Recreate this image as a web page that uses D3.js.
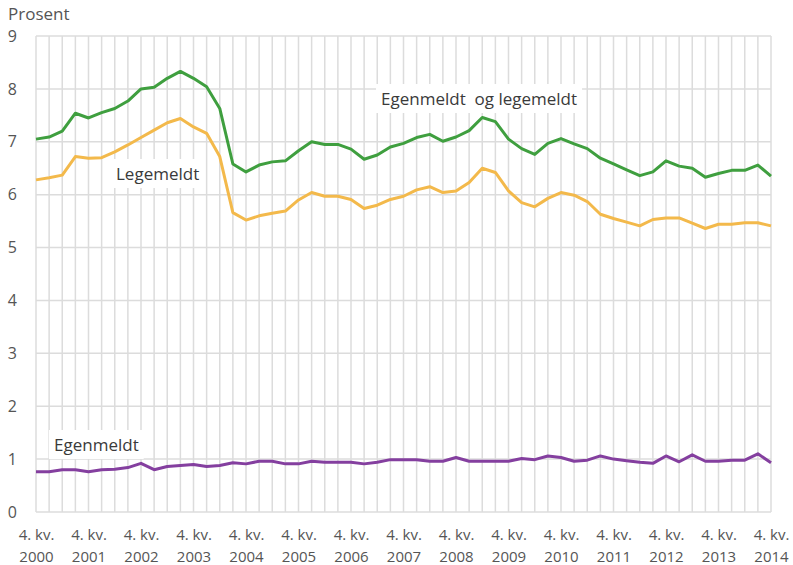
<!DOCTYPE html>
<html>
<head>
<meta charset="utf-8">
<script src="https://cdn.jsdelivr.net/npm/d3@7"></script>
<style>
  body { margin: 0; background: #fff; }
  svg { display: block; font-family: "Open Sans", sans-serif; }
</style>
</head>
<body>
<div id="chart"></div>
<script>
// Sykefravær per kvartal, 4. kv. 2000 – 4. kv. 2014 (57 kvartaler)
const years = ['2000', '2001', '2002', '2003', '2004', '2005', '2006', '2007',
  '2008', '2009', '2010', '2011', '2012', '2013', '2014'];
const yTicks = [0, 1, 2, 3, 4, 5, 6, 7, 8, 9];

const total = [7.05, 7.09, 7.2, 7.54, 7.45, 7.55, 7.63, 7.77, 8.0, 8.03, 8.2, 8.33, 8.2, 8.04, 7.63,
  6.58, 6.43, 6.56, 6.62, 6.64, 6.83, 7.0, 6.95, 6.95, 6.86, 6.67, 6.75, 6.9, 6.97, 7.08,
  7.14, 7.01, 7.09, 7.21, 7.46, 7.38, 7.05, 6.87, 6.76, 6.97, 7.06, 6.96, 6.87, 6.69, 6.58,
  6.47, 6.36, 6.43, 6.64, 6.54, 6.5, 6.33, 6.4, 6.46, 6.46, 6.56, 6.35];

const legemeldt = [6.28, 6.32, 6.37, 6.72, 6.69, 6.7, 6.81, 6.94, 7.08, 7.22, 7.36, 7.44, 7.28, 7.16, 6.72,
  5.66, 5.52, 5.6, 5.65, 5.69, 5.9, 6.04, 5.97, 5.97, 5.91, 5.74, 5.8, 5.91, 5.97, 6.09,
  6.15, 6.04, 6.07, 6.23, 6.5, 6.42, 6.07, 5.85, 5.77, 5.93, 6.04, 5.99, 5.87, 5.63, 5.55,
  5.48, 5.41, 5.53, 5.56, 5.56, 5.46, 5.36, 5.44, 5.44, 5.47, 5.47, 5.41];

const egenmeldt = [0.76, 0.76, 0.8, 0.8, 0.76, 0.8, 0.81, 0.84, 0.92, 0.8, 0.86, 0.88, 0.9, 0.86, 0.88,
  0.93, 0.91, 0.96, 0.96, 0.91, 0.91, 0.96, 0.94, 0.94, 0.94, 0.91, 0.94, 0.99, 0.99, 0.99,
  0.96, 0.96, 1.03, 0.96, 0.96, 0.96, 0.96, 1.01, 0.99, 1.06, 1.03, 0.96, 0.98, 1.06, 1.0,
  0.97, 0.94, 0.92, 1.06, 0.95, 1.08, 0.96, 0.96, 0.98, 0.98, 1.1, 0.93];

const W = 793, H = 565;
const MARGIN = { top: 36, right: 22, bottom: 53, left: 36 };
const GRID = '#dcdcdc';
const TEXT = '#555';

const svg = d3.select('#chart').append('svg')
  .attr('width', W)
  .attr('height', H);

const x = d3.scaleLinear().domain([0, total.length - 1]).range([MARGIN.left, W - MARGIN.right]);
const y = d3.scaleLinear().domain([0, 9]).range([H - MARGIN.bottom, MARGIN.top]);

// vertical grid, one per quarter
svg.append('g')
  .selectAll('line')
  .data(d3.range(total.length))
  .join('line')
  .attr('x1', d => x(d)).attr('x2', d => x(d))
  .attr('y1', y(9)).attr('y2', y(0))
  .attr('stroke', GRID)
  .attr('stroke-width', 1.5);

// horizontal grid
svg.append('g')
  .selectAll('line')
  .data(yTicks)
  .join('line')
  .attr('x1', x(0)).attr('x2', x(total.length - 1))
  .attr('y1', d => y(d)).attr('y2', d => y(d))
  .attr('stroke', GRID)
  .attr('stroke-width', 1.5);

// y axis labels
const yAxis = svg.append('g')
  .attr('transform', `translate(${MARGIN.left},0)`)
  .call(d3.axisLeft(y).tickValues(yTicks).tickSize(0).tickPadding(19));
yAxis.select('.domain').remove();
yAxis.selectAll('text')
  .attr('fill', TEXT)
  .style('font-size', '16px')
  .style('font-family', '"Open Sans", sans-serif');

// x axis labels (two lines)
const xAxis = svg.append('g')
  .attr('transform', `translate(0,${y(0)})`)
  .call(d3.axisBottom(x).tickValues(d3.range(0, total.length, 4)).tickSize(0).tickFormat(''));
xAxis.select('.domain').remove();
xAxis.selectAll('.tick text').each(function (d) {
  const t = d3.select(this)
    .attr('fill', TEXT)
    .attr('y', 0)
    .style('font-size', '15px')
    .style('font-family', '"Open Sans", sans-serif');
  t.append('tspan').attr('x', 0).attr('dy', 28).text('4. kv.');
  t.append('tspan').attr('x', 0).attr('dy', 22).text(years[d / 4]);
});

svg.append('text')
  .attr('x', 8).attr('y', 20)
  .attr('fill', TEXT)
  .style('font-size', '17px')
  .text('Prosent');

// series
const line = d3.line().x((d, i) => x(i)).y(d => y(d));
const series = [
  { values: total, color: '#3f9f3f' },
  { values: legemeldt, color: '#f3b94b' },
  { values: egenmeldt, color: '#843f9f' },
];
svg.append('g')
  .selectAll('path')
  .data(series)
  .join('path')
  .attr('d', d => line(d.values))
  .attr('fill', 'none')
  .attr('stroke', d => d.color)
  .attr('stroke-width', 3)
  .attr('stroke-linejoin', 'round');

// inline labels with white boxes
const labels = [
  { text: 'Egenmeldt  og legemeldt', x: 381, y: 105 },
  { text: 'Legemeldt', x: 116, y: 180 },
  { text: 'Egenmeldt', x: 54, y: 451 },
];
labels.forEach(l => {
  const g = svg.append('g');
  const t = g.append('text')
    .attr('x', l.x).attr('y', l.y)
    .attr('fill', '#3a3a3a')
    .style('font-size', '17px')
    .style('white-space', 'pre')
    .text(l.text);
  const b = t.node().getBBox();
  g.insert('rect', 'text')
    .attr('x', b.x - 5).attr('y', b.y - 3)
    .attr('width', b.width + 10).attr('height', b.height + 6)
    .attr('fill', '#fff');
});
</script>
</body>
</html>
